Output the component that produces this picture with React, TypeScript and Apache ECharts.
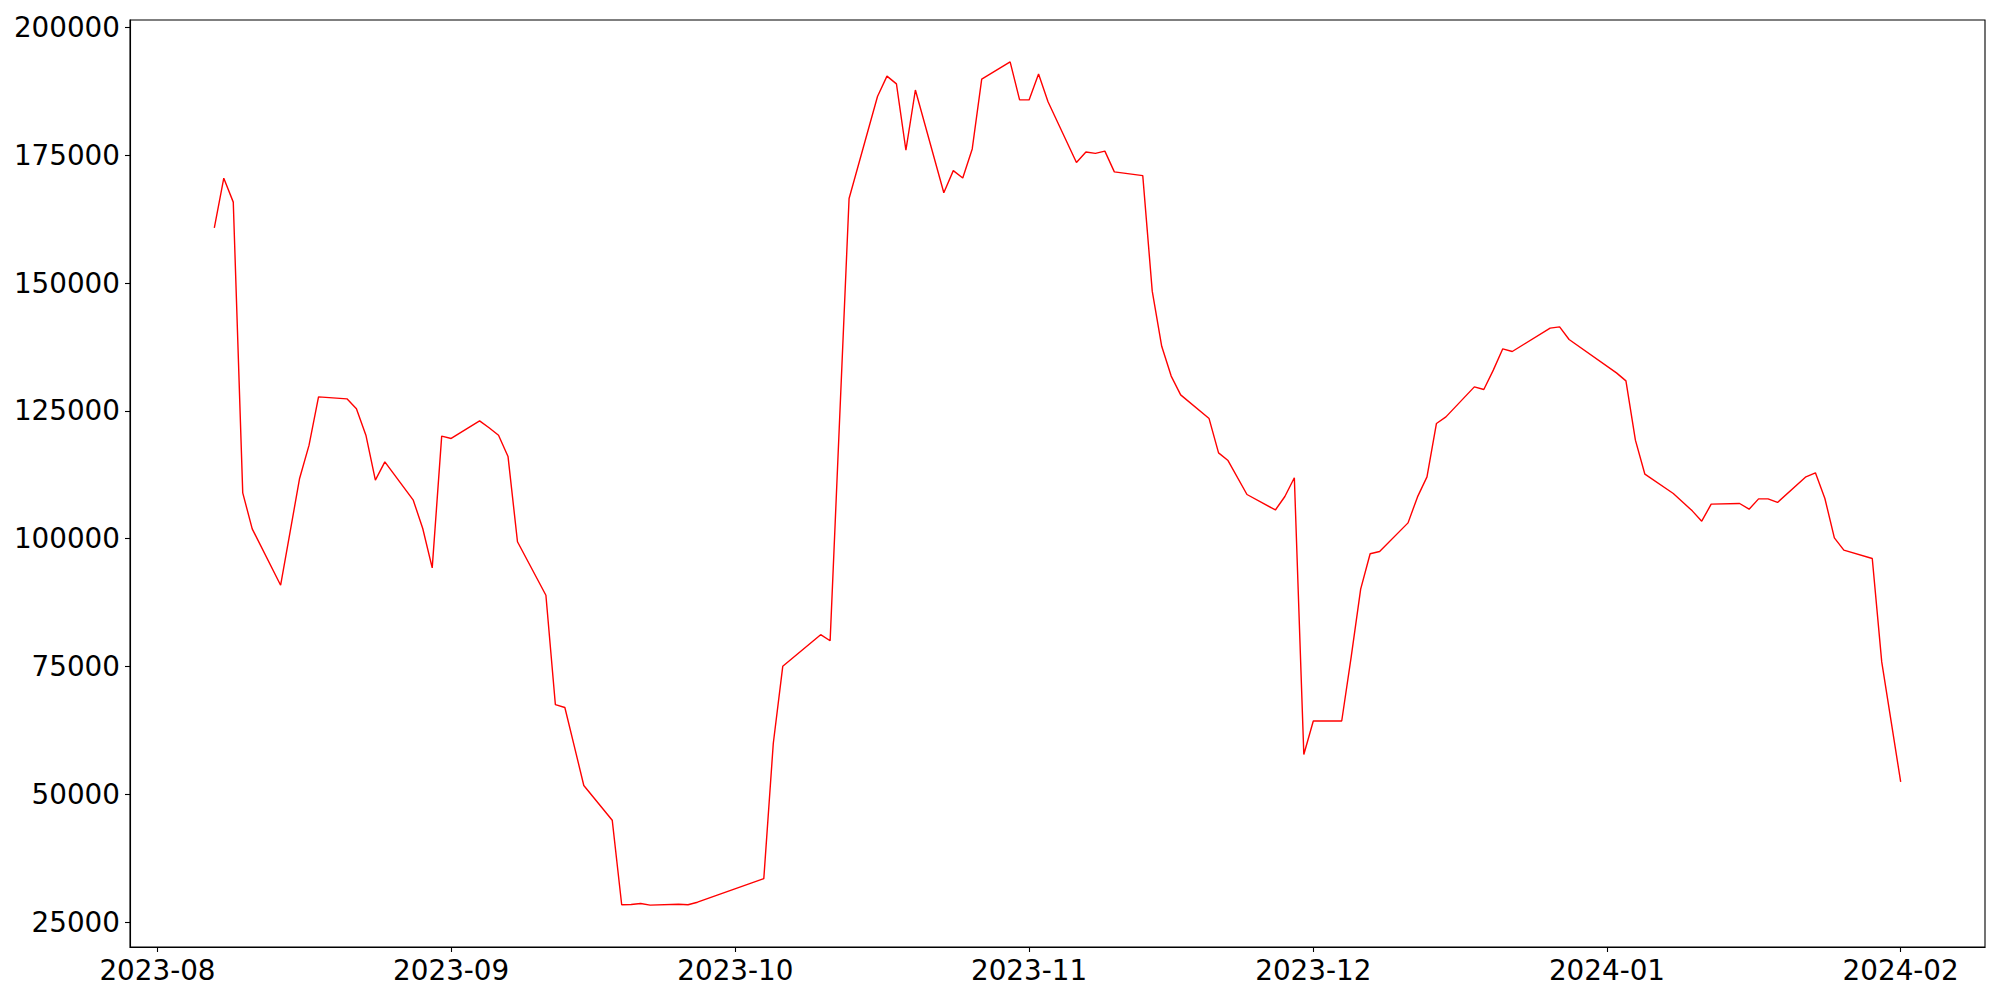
import React, { useEffect, useRef } from "react";
import * as echarts from "echarts";

const dates: string[] = [
  "2023-08-07", "2023-08-08", "2023-08-09", "2023-08-10", "2023-08-11",
  "2023-08-14", "2023-08-15", "2023-08-16", "2023-08-17", "2023-08-18",
  "2023-08-21", "2023-08-22", "2023-08-23", "2023-08-24", "2023-08-25",
  "2023-08-28", "2023-08-29", "2023-08-30", "2023-08-31", "2023-09-01",
  "2023-09-04", "2023-09-05", "2023-09-06", "2023-09-07", "2023-09-08",
  "2023-09-11", "2023-09-12", "2023-09-13", "2023-09-14", "2023-09-15",
  "2023-09-18", "2023-09-19", "2023-09-20", "2023-09-21", "2023-09-22",
  "2023-09-25", "2023-09-26", "2023-09-27",
  "2023-10-04", "2023-10-05", "2023-10-06",
  "2023-10-10", "2023-10-11", "2023-10-13",
  "2023-10-16", "2023-10-17", "2023-10-18", "2023-10-19", "2023-10-20",
  "2023-10-23", "2023-10-24", "2023-10-25", "2023-10-26", "2023-10-27",
  "2023-10-30", "2023-10-31", "2023-11-01", "2023-11-02", "2023-11-03",
  "2023-11-06", "2023-11-07", "2023-11-08", "2023-11-09", "2023-11-10",
  "2023-11-13", "2023-11-14", "2023-11-15", "2023-11-16", "2023-11-17",
  "2023-11-20", "2023-11-21", "2023-11-22", "2023-11-24",
  "2023-11-27", "2023-11-28", "2023-11-29", "2023-11-30", "2023-12-01",
  "2023-12-04", "2023-12-05", "2023-12-06", "2023-12-07", "2023-12-08",
  "2023-12-11", "2023-12-12", "2023-12-13", "2023-12-14", "2023-12-15",
  "2023-12-18", "2023-12-19", "2023-12-20", "2023-12-21", "2023-12-22",
  "2023-12-26", "2023-12-27", "2023-12-28",
  "2024-01-02", "2024-01-03", "2024-01-04", "2024-01-05",
  "2024-01-08", "2024-01-10", "2024-01-11", "2024-01-12",
  "2024-01-15", "2024-01-16", "2024-01-17", "2024-01-18", "2024-01-19",
  "2024-01-22", "2024-01-23", "2024-01-24", "2024-01-25", "2024-01-26",
  "2024-01-29", "2024-01-30", "2024-01-31", "2024-02-01",
];

const values: number[] = [
  160800, 170520, 165830, 108970, 101930,
  90910, 101340, 111780, 118300, 127750,
  127360, 125400, 120250, 111450, 115030,
  107540, 102000, 94300, 120060, 119610,
  123050, 121700, 120230, 116090, 99400,
  88940, 67540, 66990, 59400, 51735,
  44950, 28420, 28450, 28650, 28340,
  28500, 28420, 28910,
  33525, 59950, 75050,
  81230, 80040, 166550,
  186480, 190470, 188950, 175980, 187760,
  167670, 171990, 170540, 176235, 189890,
  193270, 185820, 185820, 190900, 185470,
  173590, 175630, 175370, 175800, 171740,
  171010, 148420, 137640, 131810, 128140,
  123500, 116790, 115290, 108650,
  105620, 108260, 111920, 57800, 64350,
  64350, 76900, 90130, 97070, 97490,
  103100, 108180, 112100, 122540, 123830,
  129700, 129190, 132970, 137140, 136620,
  141180, 141440, 138970,
  132440, 130870, 119280, 112620,
  108850, 105450, 103430, 106760,
  106890, 105780, 107790, 107790, 107090,
  112100, 112880, 107870, 100170, 97760,
  96140, 75910, 64180, 52440,
];

const xTickDates: string[] = [
  "2023-08-01", "2023-09-01", "2023-10-01", "2023-11-01",
  "2023-12-01", "2024-01-01", "2024-02-01",
];

const yTicks: number[] = [25000, 50000, 75000, 100000, 125000, 150000, 175000, 200000];

const X_MIN = "2023-07-29T02:24:00Z";
const X_MAX = "2024-02-09T21:36:00Z";
const Y_MIN = 20150;
const Y_MAX = 201450;

const toTs = (s: string): number => {
  const [y, m, d] = s.split("-").map(Number);
  return Date.UTC(y, m - 1, d);
};

const fmtMonth = (v: number): string => {
  const d = new Date(v);
  return `${d.getUTCFullYear()}-${String(d.getUTCMonth() + 1).padStart(2, "0")}`;
};

export default function App() {
  const ref = useRef<HTMLDivElement>(null);

  useEffect(() => {
    if (!ref.current) return;
    const chart = echarts.init(ref.current, null, { renderer: "svg" });
    const xTicks = xTickDates.map(toTs);
    const font = { fontFamily: "DejaVu Sans", fontSize: 27.8, color: "#000" };
    chart.setOption({
      animation: false,
      backgroundColor: "#fff",
      grid: {
        left: 130,
        right: 15,
        top: 20,
        bottom: 53,
        show: true,
        borderColor: "#000",
        borderWidth: 1.1,
        backgroundColor: "transparent",
      },
      xAxis: {
        type: "value",
        min: Date.parse(X_MIN),
        max: Date.parse(X_MAX),
        axisLine: { show: true, onZero: false, lineStyle: { color: "#000", width: 1.1 } },
        axisTick: {
          show: true,
          length: 5,
          customValues: xTicks,
          lineStyle: { color: "#000", width: 1.1 },
        },
        axisLabel: {
          ...font,
          margin: 9,
          customValues: xTicks,
          formatter: (v: number) => fmtMonth(v),
        },
        splitLine: { show: false },
      },
      yAxis: {
        type: "value",
        min: Y_MIN,
        max: Y_MAX,
        axisLine: { show: true, onZero: false, lineStyle: { color: "#000", width: 1.1 } },
        axisTick: {
          show: true,
          length: 5,
          customValues: yTicks,
          lineStyle: { color: "#000", width: 1.1 },
        },
        axisLabel: {
          ...font,
          margin: 10,
          customValues: yTicks,
          formatter: (v: number) => String(v),
        },
        splitLine: { show: false },
      },
      series: [
        {
          type: "line",
          data: dates.map((d, i) => [toTs(d), values[i]]),
          showSymbol: false,
          symbol: "none",
          lineStyle: { color: "#ff0000", width: 1.4 },
          itemStyle: { color: "#ff0000" },
        },
      ],
    });
    return () => chart.dispose();
  }, []);

  return (
    <div
      ref={ref}
      style={{ position: "absolute", left: 0, top: 0, width: 2000, height: 1000, background: "#fff" }}
    />
  );
}
